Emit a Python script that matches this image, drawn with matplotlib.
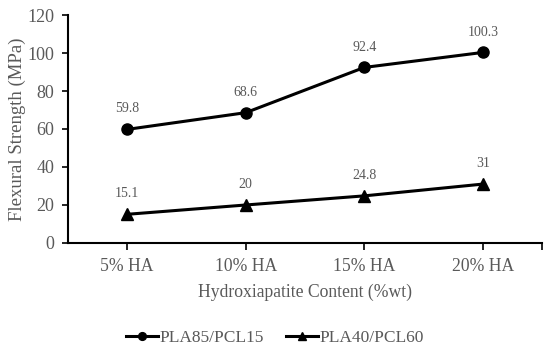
import matplotlib.pyplot as plt
import numpy as np

categories = ["5% HA", "10% HA", "15% HA", "20% HA"]
pla85 = [59.8, 68.6, 92.4, 100.3]
pla40 = [15.1, 20, 24.8, 31]
pla85_labels = ["59.8", "68.6", "92.4", "100.3"]
pla40_labels = ["15.1", "20", "24.8", "31"]

plt.rcParams['font.family'] = ['Liberation Serif', 'DejaVu Serif']
gray = "#595959"

fig = plt.figure(figsize=(5.5, 3.54), dpi=100)
ax = fig.add_axes([0.1236, 0.3136, 0.8619, 0.644])

x = np.arange(len(categories))
ax.plot(x, pla85, color="black", lw=2.2, marker="o", ms=8, label="PLA85/PCL15")
ax.plot(x, pla40, color="black", lw=2.2, marker="^", ms=8, label="PLA40/PCL60")

for xi, v, t in zip(x, pla85, pla85_labels):
    ax.annotate(t, (xi, v), xytext=(0, 10), textcoords="offset points",
                ha="center", va="bottom", fontsize=10, color=gray)
for xi, v, t in zip(x, pla40, pla40_labels):
    ax.annotate(t, (xi, v), xytext=(0, 10), textcoords="offset points",
                ha="center", va="bottom", fontsize=10, color=gray)

ax.set_xlim(-0.5, 3.5)
ax.set_ylim(0, 120)
ax.set_yticks(np.arange(0, 121, 20))
ax.set_xticks(x)
ax.set_xticklabels(categories)
ax.set_xticks([3.5], minor=True)
ax.tick_params(axis="x", which="both", direction="out", length=5, width=1.2, colors="black",
               labelcolor=gray, labelsize=12.7, pad=6)
ax.tick_params(axis="y", direction="out", length=4, width=1.2, colors="black",
               labelcolor=gray, labelsize=13, pad=6)

for s in ["top", "right"]:
    ax.spines[s].set_visible(False)
for s in ["left", "bottom"]:
    ax.spines[s].set_linewidth(1.5)

ax.set_xlabel("Hydroxiapatite Content (%wt)", fontsize=12.7, color=gray, labelpad=6)
ax.set_ylabel("Flexural Strength (MPa)", fontsize=13.5, color=gray, labelpad=1)

leg = fig.legend(loc="center", bbox_to_anchor=(0.5, 0.045), ncol=2, frameon=False,
                 fontsize=12.5, handlelength=1.8, markerscale=0.7, columnspacing=1.3,
                 handletextpad=0.1)
for t in leg.get_texts():
    t.set_color(gray)

fig.savefig("out.png", dpi=100)
